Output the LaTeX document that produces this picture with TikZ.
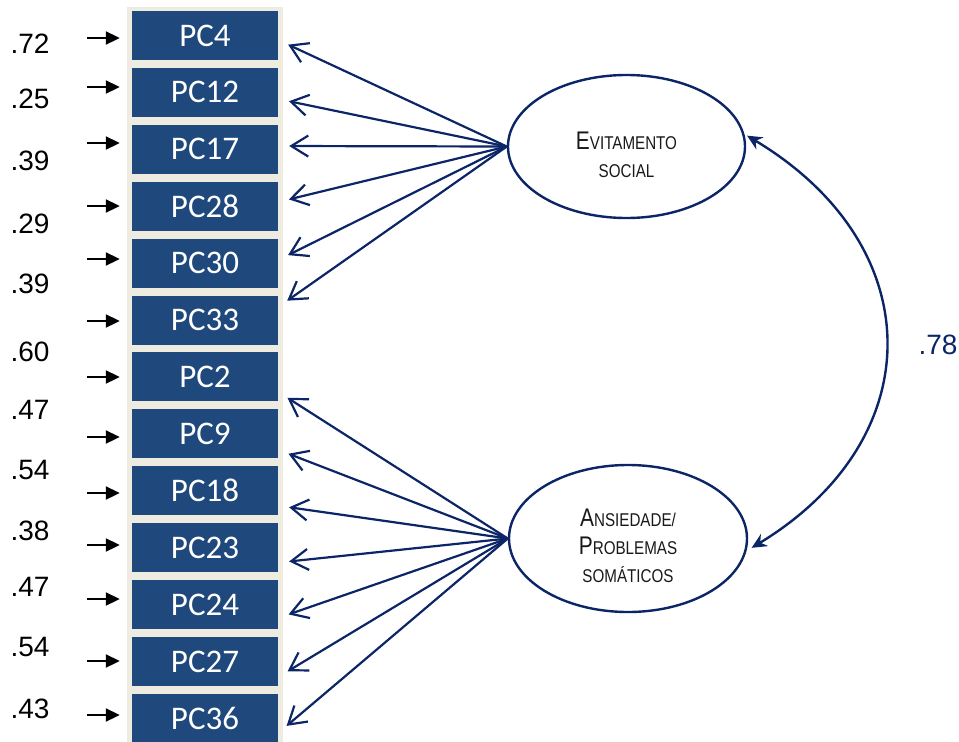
\documentclass[tikz,border=0pt]{standalone}
\usepackage{fontspec}
\setmainfont{Liberation Sans}
\newfontfamily\itemfont{Carlito}
\newfontfamily\narrowfont[FakeStretch=0.82]{Liberation Sans}
\usepackage{tikz}
\usetikzlibrary{shapes.geometric, arrows.meta, positioning, calc}
\usepackage{xcolor}
\definecolor{itemblue}{HTML}{1F497D}
\definecolor{colbeige}{HTML}{EEECE1}
\definecolor{navyline}{HTML}{0B2566}
\newcommand{\capsize}[1]{{\fontsize{25.5}{28}\selectfont #1}}

\begin{document}
\begin{tikzpicture}[x=1pt, y=-1pt,
    item/.style={fill=itemblue, text=white, minimum width=146pt, minimum height=49pt, inner sep=0pt, font=\itemfont\fontsize{33}{36}\selectfont},
    factor/.style={ellipse, draw=navyline, line width=2.4pt, fill=white, inner sep=0pt, align=center, text=black!90, font=\narrowfont\fontsize{18.5}{28}\selectfont},
    resid/.style={inner sep=0pt, font=\fontsize{28}{32}\selectfont},
    err/.style={line width=2pt, -{Triangle[length=14pt,width=13pt]}, shorten >=12pt},
    load/.style={navyline, line width=2.2pt, -{Straight Barb[length=17pt,width=21pt]}, shorten >=11pt},
    cov/.style={navyline, line width=2.4pt, {Stealth[length=15pt,width=14pt,inset=5pt]}-{Stealth[length=15pt,width=14pt,inset=5pt]}}]
        \useasboundingbox (0,0) rectangle (959,742);
        \fill[colbeige] (127,7) rectangle (283,745);
        % items
        \node[item] (pc4)  at (205,35.5)  {PC4};
        \node[item] (pc12) at (205,92.4)  {PC12};
        \node[item] (pc17) at (205,149.3) {PC17};
        \node[item] (pc28) at (205,206.2) {PC28};
        \node[item] (pc30) at (205,263.1) {PC30};
        \node[item] (pc33) at (205,320.0) {PC33};
        \node[item] (pc2)  at (205,376.9) {PC2};
        \node[item] (pc9)  at (205,433.8) {PC9};
        \node[item] (pc18) at (205,490.7) {PC18};
        \node[item] (pc23) at (205,547.6) {PC23};
        \node[item] (pc24) at (205,604.5) {PC24};
        \node[item] (pc27) at (205,661.4) {PC27};
        \node[item] (pc36) at (205,718.3) {PC36};
        % error terms
        \node[resid] (r4)  at (30,44)  {.72};
        \node[resid] (r12) at (30,99)  {.25};
        \node[resid] (r17) at (30,161) {.39};
        \node[resid] (r28) at (30,224) {.29};
        \node[resid] (r30) at (30,284) {.39};
        \node[resid] (r33) at (30,352) {.60};
        \node[resid] (r2)  at (30,410) {.47};
        \node[resid] (r9)  at (30,470) {.54};
        \node[resid] (r18) at (30,531) {.38};
        \node[resid] (r23) at (30,587) {.47};
        \node[resid] (r24) at (30,647) {.54};
        \node[resid] (r27) at (30,709) {.43};
        \coordinate (e4)  at (87,38);
        \coordinate (e12) at (87,87);
        \coordinate (e17) at (87,143);
        \coordinate (e28) at (87,206);
        \coordinate (e30) at (87,259);
        \coordinate (e33) at (87,321);
        \coordinate (e2)  at (87,377);
        \coordinate (e9)  at (87,437);
        \coordinate (e18) at (87,493);
        \coordinate (e23) at (87,545);
        \coordinate (e24) at (87,599);
        \coordinate (e27) at (87,661);
        \coordinate (e36) at (87,715);
        \draw[err] (e4)  -- (e4 -| pc4.west);
        \draw[err] (e12) -- (e12 -| pc12.west);
        \draw[err] (e17) -- (e17 -| pc17.west);
        \draw[err] (e28) -- (e28 -| pc28.west);
        \draw[err] (e30) -- (e30 -| pc30.west);
        \draw[err] (e33) -- (e33 -| pc33.west);
        \draw[err] (e2)  -- (e2 -| pc2.west);
        \draw[err] (e9)  -- (e9 -| pc9.west);
        \draw[err] (e18) -- (e18 -| pc18.west);
        \draw[err] (e23) -- (e23 -| pc23.west);
        \draw[err] (e24) -- (e24 -| pc24.west);
        \draw[err] (e27) -- (e27 -| pc27.west);
        \draw[err] (e36) -- (e36 -| pc36.west);
        % factors
        \node[factor, minimum width=237pt, minimum height=143pt] (soc) at (626.5,146.5)
            {\rule{0pt}{34pt}\capsize{E}VITAMENTO\\SOCIAL};
        \node[factor, minimum width=238pt, minimum height=147pt] (som) at (628,538.5)
            {\rule{0pt}{33pt}\capsize{A}NSIEDADE/\\\capsize{P}ROBLEMAS\\SOMÁTICOS};
        % loadings
        \draw[load] (soc.west) -- ([yshift=-4.5pt]pc4.east);
        \draw[load] (soc.west) -- ([yshift=-6.6pt]pc12.east);
        \draw[load] (soc.west) -- ([yshift=3.3pt]pc17.east);
        \draw[load] (soc.west) -- ([yshift=4.2pt]pc28.east);
        \draw[load] (soc.west) -- ([yshift=3.1pt]pc30.east);
        \draw[load] (soc.west) -- ([yshift=13pt]pc33.east);
        \draw[load] (som.west) -- ([yshift=-15pt]pc2.east);
        \draw[load] (som.west) -- ([yshift=-16pt]pc9.east);
        \draw[load] (som.west) -- ([yshift=-15pt]pc18.east);
        \draw[load] (som.west) -- ([yshift=-15pt]pc23.east);
        \draw[load] (som.west) -- ([yshift=-13.5pt]pc24.east);
        \draw[load] (som.west) -- ([yshift=-15.6pt]pc27.east);
        \draw[load] (som.west) -- ([yshift=-14.7pt]pc36.east);
        % correlation
        \draw[cov, shorten <=3pt, shorten >=6pt] (soc.6) .. controls (931,246) and (931,439) .. (som.-6);
        \node[resid, text=navyline] (rho) at (938,345) {.78};
      \end{tikzpicture}
\end{document}
